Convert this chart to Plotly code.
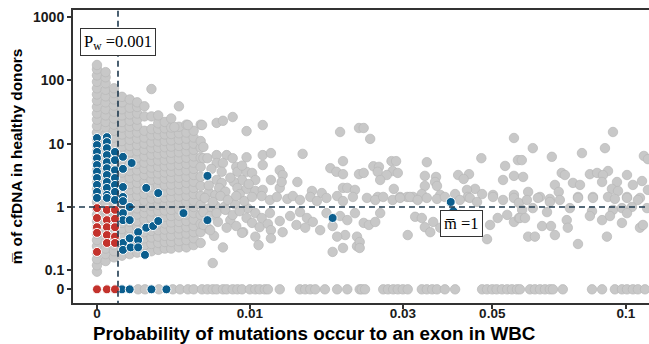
import math
import plotly.graph_objects as go

# ---------------- axis conventions ----------------
X_OFFSET = 0.01   # x axis drawn as log10(x + 0.01)
ZERO_POS = 0.05   # y = 0 drawn at this position of the log y axis, labelled "0"

# ---------------- data ----------------
# dense gray columns near x = 0
gray_col_x = [0, 0.0004, 0.0008, 0.0012, 0.0016, 0.002, 0.0024, 0.0028, 0.0032,
              0.0036, 0.004, 0.0045, 0.005, 0.0055, 0.006]
gray_col_y = [
    [0.095, 0.12, 0.15, 0.19, 0.24, 0.3, 0.38, 0.48, 0.6, 0.75, 0.95, 1.2, 1.5, 1.9, 2.4, 3, 3.8,
     4.8, 6, 7.5, 9.5, 12, 15, 19, 24, 30, 38, 48, 60, 75, 95, 120, 150, 175],
    [0.14, 0.18, 0.22, 0.28, 0.36, 0.45, 0.56, 0.71, 0.9, 1.1, 1.4, 1.8, 2.2, 2.8, 3.5, 4.5, 5.6,
     7.1, 9, 11, 14, 18, 22, 28, 35, 45, 56, 71, 90, 112, 135],
    [0.16, 0.2, 0.25, 0.32, 0.4, 0.5, 0.63, 0.8, 1, 1.25, 1.6, 2, 2.5, 3.2, 4, 5, 6.3, 8, 10,
     12.5, 16, 20, 25, 32, 40, 50, 63, 75],
    [0.17, 0.22, 0.28, 0.36, 0.45, 0.56, 0.71, 0.9, 1.1, 1.4, 1.8, 2.2, 2.8, 3.5, 4.5, 5.6, 7.1,
     9, 11, 14, 18, 22, 28, 35, 45, 55],
    [0.18, 0.23, 0.29, 0.37, 0.46, 0.58, 0.73, 0.92, 1.15, 1.45, 1.85, 2.3, 2.9, 3.7, 4.6, 5.8,
     7.3, 9.2, 11.5, 14.5, 18.5, 23, 29, 37, 50],
    [0.19, 0.24, 0.3, 0.38, 0.48, 0.6, 0.76, 0.95, 1.2, 1.5, 1.9, 2.4, 3, 3.8, 4.8, 6, 7.6, 9.5,
     12, 15, 19, 24, 30, 38, 45],
    [0.2, 0.25, 0.32, 0.4, 0.5, 0.63, 0.8, 1, 1.25, 1.6, 2, 2.5, 3.2, 4, 5, 6.3, 8, 10, 12.5,
     16, 27, 39],
    [0.2, 0.26, 0.33, 0.42, 0.53, 0.67, 0.85, 1.05, 1.35, 1.7, 2.1, 2.7, 3.4, 4.2, 5.3, 6.7, 8.5,
     10.5, 13.5, 17, 27, 73],
    [0.21, 0.27, 0.34, 0.43, 0.54, 0.68, 0.86, 1.08, 1.36, 1.7, 2.15, 2.7, 3.4, 4.3, 5.4, 6.8,
     8.6, 10.8, 13.6, 17, 21, 28],
    [0.22, 0.28, 0.35, 0.44, 0.55, 0.7, 0.88, 1.1, 1.4, 1.75, 2.2, 2.8, 3.5, 4.4, 5.5, 7, 8.8,
     11, 14, 17.5, 22],
    [0.22, 0.28, 0.35, 0.45, 0.57, 0.72, 0.9, 1.13, 1.42, 1.8, 2.26, 2.85, 3.6, 4.5, 5.7, 7.2, 9,
     11.3, 14.2, 18, 25],
    [0.23, 0.29, 0.37, 0.46, 0.58, 0.73, 0.92, 1.16, 1.46, 1.84, 2.3, 2.9, 3.7, 4.6, 5.8, 7.3,
     9.2, 11.6, 14.6, 18.5, 39],
    [0.23, 0.3, 0.38, 0.48, 0.6, 0.76, 0.95, 1.2, 1.5, 1.9, 2.4, 3, 3.8, 4.8, 6, 7.6, 9.5, 12,
     15, 20],
    [0.25, 0.32, 0.4, 0.5, 0.63, 0.8, 1, 1.25, 1.6, 2, 2.5, 3.2, 4, 5, 6.3, 8, 10, 12.5, 16],
    [0.27, 0.4, 0.54, 0.75, 1.08, 1.5, 2.15, 3.0, 4.3, 6.0, 8.6, 11, 20],
]

# scattered gray points (x, y)
gray_x = [
    # 0.006 - 0.023, upper part
    0.0042, 0.0051, 0.0061, 0.0072, 0.0077, 0.0085, 0.0097, 0.0112, 0.0201, 0.0228,
    0.0062, 0.0062, 0.0065, 0.0072, 0.008, 0.0085, 0.0097, 0.0112, 0.012, 0.0154, 0.0205,
    0.0072, 0.0077, 0.0088, 0.0089, 0.0097, 0.0102, 0.0112, 0.0129, 0.0132, 0.012, 0.0105,
    0.0093, 0.0086, 0.0076, 0.0072, 0.0076, 0.0089, 0.0097, 0.0105, 0.0112, 0.0129, 0.0131,
    0.0148, 0.0165, 0.0177, 0.0188, 0.0196, 0.0205, 0.0205, 0.0211, 0.0222, 0.0228,
    # transition 0.0065 - 0.01
    0.0066, 0.0066, 0.0066, 0.0066, 0.0068, 0.007, 0.0071, 0.0071, 0.0074, 0.0078, 0.0079,
    0.0083, 0.0083, 0.0087, 0.0091, 0.0093, 0.0098, 0.0099,
    # band around 1, 0.006 - 0.023
    0.0063, 0.0069, 0.0075, 0.0081, 0.0088, 0.0095, 0.0102, 0.0111, 0.0119, 0.0126, 0.0137,
    0.0143, 0.0151, 0.0163, 0.0171, 0.0183, 0.0197, 0.0205, 0.0219,
    0.0062, 0.0067, 0.0072, 0.0079, 0.0085, 0.0091, 0.0097, 0.0105, 0.0111, 0.0119, 0.0129,
    0.014, 0.0147, 0.0151, 0.0159, 0.0166, 0.0175, 0.0183, 0.0191, 0.0201, 0.0211, 0.0222,
    0.0062, 0.0067, 0.0073, 0.008, 0.0088, 0.0094, 0.0102, 0.0109, 0.0117, 0.0132, 0.0157,
    0.0208,
    0.0077, 0.0069, 0.0105, 0.0108, 0.012, 0.012, 0.0093, 0.0197, 0.0205, 0.0191, 0.0225,
    0.0225,
    # 0.023 - 0.058
    0.0235, 0.0245, 0.0562, 0.0471, 0.0346, 0.028, 0.0288, 0.025, 0.0259, 0.0257, 0.0282,
    0.0291, 0.0272, 0.0261, 0.0235, 0.0342, 0.0365, 0.0363, 0.0414, 0.044, 0.0427, 0.0536,
    0.0574, 0.053, 0.0562, 0.0342, 0.0367, 0.0284, 0.0455, 0.0435, 0.0502, 0.0562, 0.0473,
    0.0257, 0.0295, 0.0308, 0.0319, 0.0336, 0.0374, 0.0407, 0.0437,
    0.024, 0.0253, 0.0266, 0.0282, 0.0295, 0.0313, 0.0328, 0.0346, 0.0367, 0.0384, 0.0418,
    0.0442, 0.046, 0.0502, 0.053, 0.0562, 0.0577,
    0.0235, 0.0243, 0.0253, 0.0261, 0.0323, 0.0336, 0.0342, 0.0353, 0.0359, 0.0374, 0.0418,
    0.045, 0.0494, 0.0515, 0.0542, 0.0562, 0.0577,
    0.0309, 0.0486, 0.0229, 0.0229,
    # 0.058 - 0.112
    0.0937, 0.0621, 0.0686, 0.0801, 0.09, 0.1093, 0.1115, 0.0586, 0.059, 0.0722, 0.0734,
    0.0834, 0.0865, 0.0914, 0.0891, 0.1005, 0.1083, 0.0956, 0.0887, 0.0765, 0.0793, 0.0697,
    0.1035, 0.0606, 0.0711, 0.0932, 0.0961, 0.1115, 0.0645, 0.0679, 0.0785, 0.0847, 0.0914,
    0.1005, 0.1072,
    0.0602, 0.0638, 0.0679, 0.0715, 0.0785, 0.0847, 0.0946, 0.1005, 0.1061, 0.0587, 0.0621,
    0.0669, 0.0753, 0.0843, 0.0937, 0.098, 0.103, 0.111, 0.058, 0.0596,
    0.0785, 0.0909, 0.0606, 0.0628, 0.0697, 0.0652, 0.0683, 0.0741, 0.0745, 0.0834, 0.0887,
    0.098, 0.1005, 0.1072, 0.1088, 0.0923,
]
gray_y = [
    18.3, 19.7, 19.7, 21.3, 23, 26.4, 15.8, 19.7, 15.3, 17.7,
    8.9, 5.9, 5.9, 6.6, 6.6, 5.9, 6.1, 6.6, 7.1, 6.9, 5.3,
    4.95, 4.95, 4.3, 3.6, 3.6, 3.45, 4.6, 3.8, 3.2, 2.67, 2.67,
    2.67, 2.48, 3.6, 2.67, 2.4, 2.0, 1.93, 1.79, 1.86, 2.0, 2.48,
    2.48, 1.79, 1.66, 4.1, 3.6, 3.3, 2.0, 2.0, 1.86, 3.3,
    0.45, 0.95, 1.7, 2.2, 4.0, 0.35, 1.05, 1.55, 2.0, 1.0, 1.75,
    0.62, 2.9, 1.1, 1.6, 4.5, 0.95, 2.3,
    1.39, 1.2, 1.49, 1.29, 1.49, 1.24, 1.44, 1.49, 1.29, 1.44, 1.34,
    1.49, 1.29, 1.44, 1.24, 1.39, 1.49, 1.24, 1.44,
    0.83, 0.72, 0.8, 0.9, 0.75, 0.86, 0.67, 0.8, 0.67, 0.8, 0.6,
    0.72, 0.52, 0.83, 0.67, 0.58, 0.43, 0.8, 0.5, 0.72, 0.62, 0.8,
    0.52, 0.43, 0.58, 0.47, 0.5, 0.4, 0.56, 0.48, 0.54, 0.4, 0.47,
    0.36,
    0.23, 0.13, 0.34, 0.25, 0.43, 0.32, 0.39, 0.34, 0.225, 0.195, 0.34,
    0.24,
    17.7, 11.9, 12.3, 5.9, 5.1, 5.3, 5.3, 4.4, 4.3, 3.6, 3.7,
    3.45, 3.2, 2.67, 3.45, 3.1, 2.98, 2.48, 3.2, 3.3, 2.77, 4.45,
    5.5, 2.67, 3.1, 2.15, 2.15, 1.93, 1.93, 1.86, 1.55, 1.55, 1.6,
    1.44, 1.44, 1.44, 1.44, 1.6, 1.55, 1.6, 1.44,
    1.39, 1.29, 1.44, 1.29, 1.39, 1.44, 1.29, 1.39, 1.34, 1.44, 1.29,
    1.39, 1.2, 1.44, 1.29, 1.39, 1.16,
    0.56, 0.52, 0.58, 0.8, 0.7, 0.67, 0.48, 0.4, 0.58, 0.47, 0.75,
    0.62, 0.52, 0.67, 0.75, 0.58, 0.67,
    0.36, 0.31, 0.28, 0.225,
    15.3, 8.5, 6.2, 7.1, 8.5, 6.4, 5.7, 5.5, 2.98, 3.45, 3.2,
    3.3, 3.45, 3.7, 3.2, 3.2, 2.57, 2.48, 2.48, 2.4, 2.23, 2.23,
    2.23, 1.73, 1.73, 1.93, 1.79, 1.86, 1.44, 1.34, 1.44, 1.44, 1.44,
    1.44, 1.39,
    1.29, 1.39, 1.2, 1.29, 1.39, 1.39, 1.34, 1.39, 1.29, 0.9, 0.96,
    0.83, 0.96, 0.86, 0.9, 0.96, 1.0, 0.96, 0.67, 0.67,
    0.26, 0.34, 0.34, 0.34, 0.36, 0.5, 0.5, 0.62, 0.47, 0.72, 0.62,
    0.56, 0.8, 0.47, 0.52, 0.72,
]

# gray points with m = 0 (x only)
gray_zero_x = [0.00205, 0.00243, 0.00324, 0.0041, 0.00457, 0.0051, 0.0055, 0.0061, 0.0065,
               0.0069, 0.0072, 0.0077, 0.008, 0.0085, 0.0089, 0.0093, 0.01, 0.0105, 0.0109,
               0.0114, 0.0117, 0.0129, 0.0151, 0.0157, 0.0163, 0.0169, 0.0181, 0.0197,
               0.0211, 0.0229, 0.0232, 0.0237, 0.0266, 0.0274, 0.0283, 0.0291, 0.03, 0.0309,
               0.0336, 0.0346, 0.0357, 0.0367, 0.0384, 0.0407, 0.0473, 0.0486, 0.05, 0.0512,
               0.0527, 0.0542, 0.0556, 0.0571, 0.058, 0.0612, 0.0628, 0.0645, 0.0662, 0.0679,
               0.069, 0.0726, 0.0843, 0.0887, 0.0946, 0.098, 0.1005, 0.1035, 0.1061, 0.1099]

# blue points
blue_x = [0, 0, 0, 0, 0, 0, 0, 0, 0, 0,
          0.00046, 0.00046, 0.00046, 0.00046, 0.00046, 0.00046, 0.00046, 0.00046, 0.00046,
          0.00046, 0.00046,
          0.00085, 0.00085, 0.00085, 0.00085, 0.00085, 0.00085, 0.00085,
          0.00125, 0.00125, 0.00125, 0.00125, 0.00125, 0.00125, 0.00125, 0.00125, 0.00125,
          0.0016, 0.0016, 0.0017, 0.0025, 0.0032,
          0.0016, 0.00165, 0.0016, 0.00205, 0.00205, 0.00205, 0.0025, 0.0029, 0.0032, 0.0048,
          0.00243, 0.0065, 0.0065, 0.0191, 0.0397, 0.0403]
blue_y = [12.3, 9.5, 7.4, 5.9, 4.6, 3.6, 2.87, 2.23, 1.73, 1.39,
          12.7, 10.6, 8.5, 6.6, 5.1, 4.1, 3.2, 2.48, 2.0, 1.55, 1.39,
          7.4, 5.5, 3.8, 2.87, 2.23, 1.73, 1.29,
          6.2, 4.0, 2.07, 1.44, 1.24, 0.8, 0.62, 0.27, 0.21,
          1.0, 0.62, 4.95, 2.0, 1.66,
          0.32, 0.23, 0.32, 0.4, 0.3, 0.23, 0.47, 0.5, 0.6, 0.8,
          0.175, 3.1, 0.62, 0.67, 1.2, 0.86]
blue_zero_x = [0.0012, 0.0016, 0.0028, 0.0037]

# red points
red_x = [0, 0, 0, 0, 0,
         0.00046, 0.00046, 0.00046, 0.00046, 0.00046,
         0.00085, 0.00085, 0.00085, 0.00085, 0.00085]
red_y = [0.96, 0.67, 0.48, 0.39, 0.195,
         0.9, 0.62, 0.48, 0.36, 0.27,
         0.9, 0.65, 0.48, 0.34, 0.27]
red_zero_x = [0, 0.00046, 0.00085]

pw_cut = 0.001
m_cut = 1

x_tick_vals = [0, 0.01, 0.03, 0.05, 0.1]
x_tick_text = ["0", "0.01", "0.03", "0.05", "0.1"]
y_tick_vals = [0, 0.1, 1, 10, 100, 1000]
y_tick_text = ["0", "0.1", "1", "10", "100", "1000"]

# ---------------- build ----------------
def xs(vals):
    return [v + X_OFFSET for v in vals]

def ys(vals):
    return [ZERO_POS if v == 0 else v for v in vals]

gx, gy = [], []
for cx, col in zip(gray_col_x, gray_col_y):
    gx += [cx] * len(col)
    gy += col
gx += gray_x + gray_zero_x
gy += gray_y + [0] * len(gray_zero_x)

bx = blue_x + blue_zero_x
by = blue_y + [0] * len(blue_zero_x)
rx = red_x + red_zero_x
ry = red_y + [0] * len(red_zero_x)

GRAY = "#C8C8C8"
BLUE = "#0B5E8E"
RED = "#C3322C"
DASH = "#1E3A4F"

fig = go.Figure()
fig.add_trace(go.Scatter(x=xs(gx), y=ys(gy), mode="markers",
                         marker=dict(size=9.5, color=GRAY, line=dict(color="#B8B8B8", width=0.7)),
                         showlegend=False, hoverinfo="skip"))
fig.add_trace(go.Scatter(x=xs(bx), y=ys(by), mode="markers",
                         marker=dict(size=9, color=BLUE, line=dict(color="white", width=1)),
                         showlegend=False, hoverinfo="skip"))
fig.add_trace(go.Scatter(x=xs(rx), y=ys(ry), mode="markers",
                         marker=dict(size=9, color=RED, line=dict(color="white", width=1)),
                         showlegend=False, hoverinfo="skip"))
# reference lines
fig.add_trace(go.Scatter(x=xs([pw_cut, pw_cut]), y=[0.001, 10000], mode="lines",
                         line=dict(color=DASH, width=1.6, dash="6px,4px"),
                         showlegend=False, hoverinfo="skip"))
fig.add_trace(go.Scatter(x=xs([-0.009, 1]), y=[m_cut, m_cut], mode="lines",
                         line=dict(color=DASH, width=1.6, dash="6px,4px"),
                         showlegend=False, hoverinfo="skip"))

x_lo = -2.0472
x_hi = -0.9133
y_hi = 3.112
y_lo = -1.517

AX_FONT = dict(family="Liberation Sans, Arial, sans-serif", size=14, color="#1a1a1a", weight="bold")
XTICK_FONT = dict(family="Liberation Sans, Arial, sans-serif", size=13.5, color="#1a1a1a", weight="bold")
XTITLE_FONT = dict(family="Liberation Sans, Arial, sans-serif", size=18.8, color="black", weight="bold")
YTITLE_FONT = dict(family="Liberation Sans, Arial, sans-serif", size=15.4, color="black", weight="bold")

fig.update_layout(
    width=649, height=344,
    margin=dict(l=73, r=0, t=10, b=41),
    plot_bgcolor="white", paper_bgcolor="white",
    xaxis=dict(type="log", range=[x_lo, x_hi], automargin=False,
               tickvals=xs(x_tick_vals), ticktext=x_tick_text,
               showgrid=False, zeroline=False,
               showline=True, mirror=True, linecolor="#333333", linewidth=2,
               ticks="outside", ticklen=4, tickwidth=1.5, tickcolor="#333333",
               tickfont=XTICK_FONT, ticklabelstandoff=-7),
    yaxis=dict(type="log", range=[y_lo, y_hi], automargin=False,
               tickvals=ys(y_tick_vals), ticktext=y_tick_text,
               showgrid=False, zeroline=False,
               showline=True, linecolor="#333333", linewidth=2,
               ticks="outside", ticklen=4, tickwidth=1.5, tickcolor="#333333",
               tickfont=AX_FONT,
               title=dict(text="m\u0305 of cfDNA in healthy donors",
                          font=YTITLE_FONT, standoff=7)),
)

# x axis title (placed left of the panel centre, as in the reference)
fig.add_annotation(x=0.4201, y=-0.1041, xref="paper", yref="paper",
                   xanchor="center", yanchor="middle", showarrow=False, borderpad=0,
                   text="Probability of mutations occur to an exon in WBC", font=XTITLE_FONT)

SERIF = dict(family="Liberation Serif, Times New Roman, serif", size=16.5, color="black")
fig.add_annotation(x=math.log10(pw_cut + X_OFFSET), y=math.log10(404), xref="x", yref="y",
                   text="P<sub>w</sub> =0.001", showarrow=False, font=SERIF,
                   bgcolor="white", bordercolor="#333333", borderwidth=1, borderpad=3)
fig.add_annotation(x=math.log10(0.0423 + X_OFFSET), y=math.log10(0.55), xref="x", yref="y",
                   text="m\u0305 =1", showarrow=False, font=SERIF,
                   bgcolor="white", bordercolor="#333333", borderwidth=1, borderpad=3)

fig.write_html("out.html")
